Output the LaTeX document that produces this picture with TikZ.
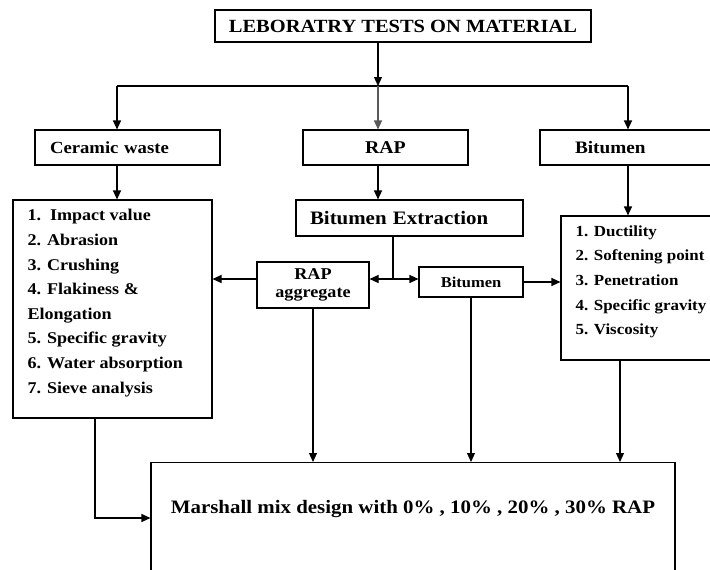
\documentclass[tikz,border=0pt]{standalone}
\usepackage{fontspec}
\setmainfont{Liberation Serif}[FakeStretch=1.1]
\usetikzlibrary{arrows.meta,calc}

\begin{document}
\begin{tikzpicture}[x=1pt,y=-1pt,line width=1.1pt,>={Triangle[length=9pt,width=8pt]},
    box/.style={draw,inner sep=0pt},
    txt/.style={font=\bfseries\fontsize{#1}{18}\selectfont},
    list/.style={align=left,inner sep=0pt,font=\bfseries\fontsize{#1}{24.6}\selectfont}]
    \useasboundingbox (0,0) rectangle (710,570);
    \clip (0,0) rectangle (710,570);
    \node[box,txt=18.6,minimum width=376,minimum height=32](title) at (403,26){LEBORATRY TESTS ON MATERIAL};
    \node[box,txt=17,minimum width=185,minimum height=35,text width=155,align=left](ceramic) at (127.5,147.5){Ceramic waste};
    \node[box,txt=18,minimum width=165,minimum height=35](rap) at (385.5,147.5){RAP};
    \node[box,txt=17.5,minimum width=176,minimum height=35,text width=106,align=left](bithead) at (628,147.5){Bitumen};
    \node[box,txt=19,minimum width=227,minimum height=36,text width=199,align=left](extraction) at (409.5,218){Bitumen Extraction};
    \node[box,minimum width=199,minimum height=218](ceramictests) at (112.5,309){};
    \node[list=16.4,anchor=north west](ceramiclist) at (27,209){1.\ \ Impact value\\2. Abrasion\\3. Crushing\\4. Flakiness \&\\Elongation\\5. Specific gravity\\6. Water absorption\\7. Sieve analysis};
    \node[box,minimum width=155,minimum height=144](bittests) at (638.5,288){};
    \node[list=15.4,anchor=north west](bitlist) at (575,225){1. Ductility\\2. Softening point\\3. Penetration\\4. Specific gravity\\5. Viscosity};
    \node[box,txt=16.5,minimum width=112,minimum height=46,align=center](rapagg) at (313,285){RAP\\aggregate};
    \node[box,txt=15,minimum width=104,minimum height=30](bitsmall) at (471,282){Bitumen};
    \node[box,txt=19,minimum width=524,text height=51,text depth=110,anchor=north](marshall) at (413,462){Marshall mix design with 0\% , 10\% , 20\% , 30\% RAP};

    \coordinate (jl) at (117,86);
    \coordinate (jm) at (378,86);
    \coordinate (jr) at (628,86);
    \coordinate (split) at (393,279);
    \coordinate (bitdown) at (620,400);
    \coordinate (cbend) at (95,518);

    \draw[->](jm |- title.south) -- (jm);
    \draw(jl) -- (jr);
    \draw[->](jl) -- (jl |- ceramic.north);
    \draw[->,gray!70!black](jm) -- (jm |- rap.north);
    \draw[->](jr) -- (jr |- bithead.north);
    \draw[->](jl |- ceramic.south) -- (jl |- ceramictests.north);
    \draw[->](jm |- rap.south) -- (jm |- extraction.north);
    \draw[->](jr |- bithead.south) -- (jr |- bittests.north);
    \draw(split |- extraction.south) -- (split);
    \draw[->](split) -- (split -| rapagg.east);
    \draw[->](split) -- (split -| bitsmall.west);
    \draw[->](split -| rapagg.west) -- (split -| ceramictests.east);
    \draw[->](bitsmall.east) -- (bitsmall.east -| bittests.west);
    \draw[->](rapagg.south) -- (rapagg.south |- marshall.north);
    \draw[->](bitsmall.south) -- (bitsmall.south |- marshall.north);
    \draw[->](bitdown |- bittests.south) -- (bitdown |- marshall.north);
    \draw[->](cbend |- ceramictests.south) -- (cbend) -- (marshall.west |- cbend);
\end{tikzpicture}
\end{document}
